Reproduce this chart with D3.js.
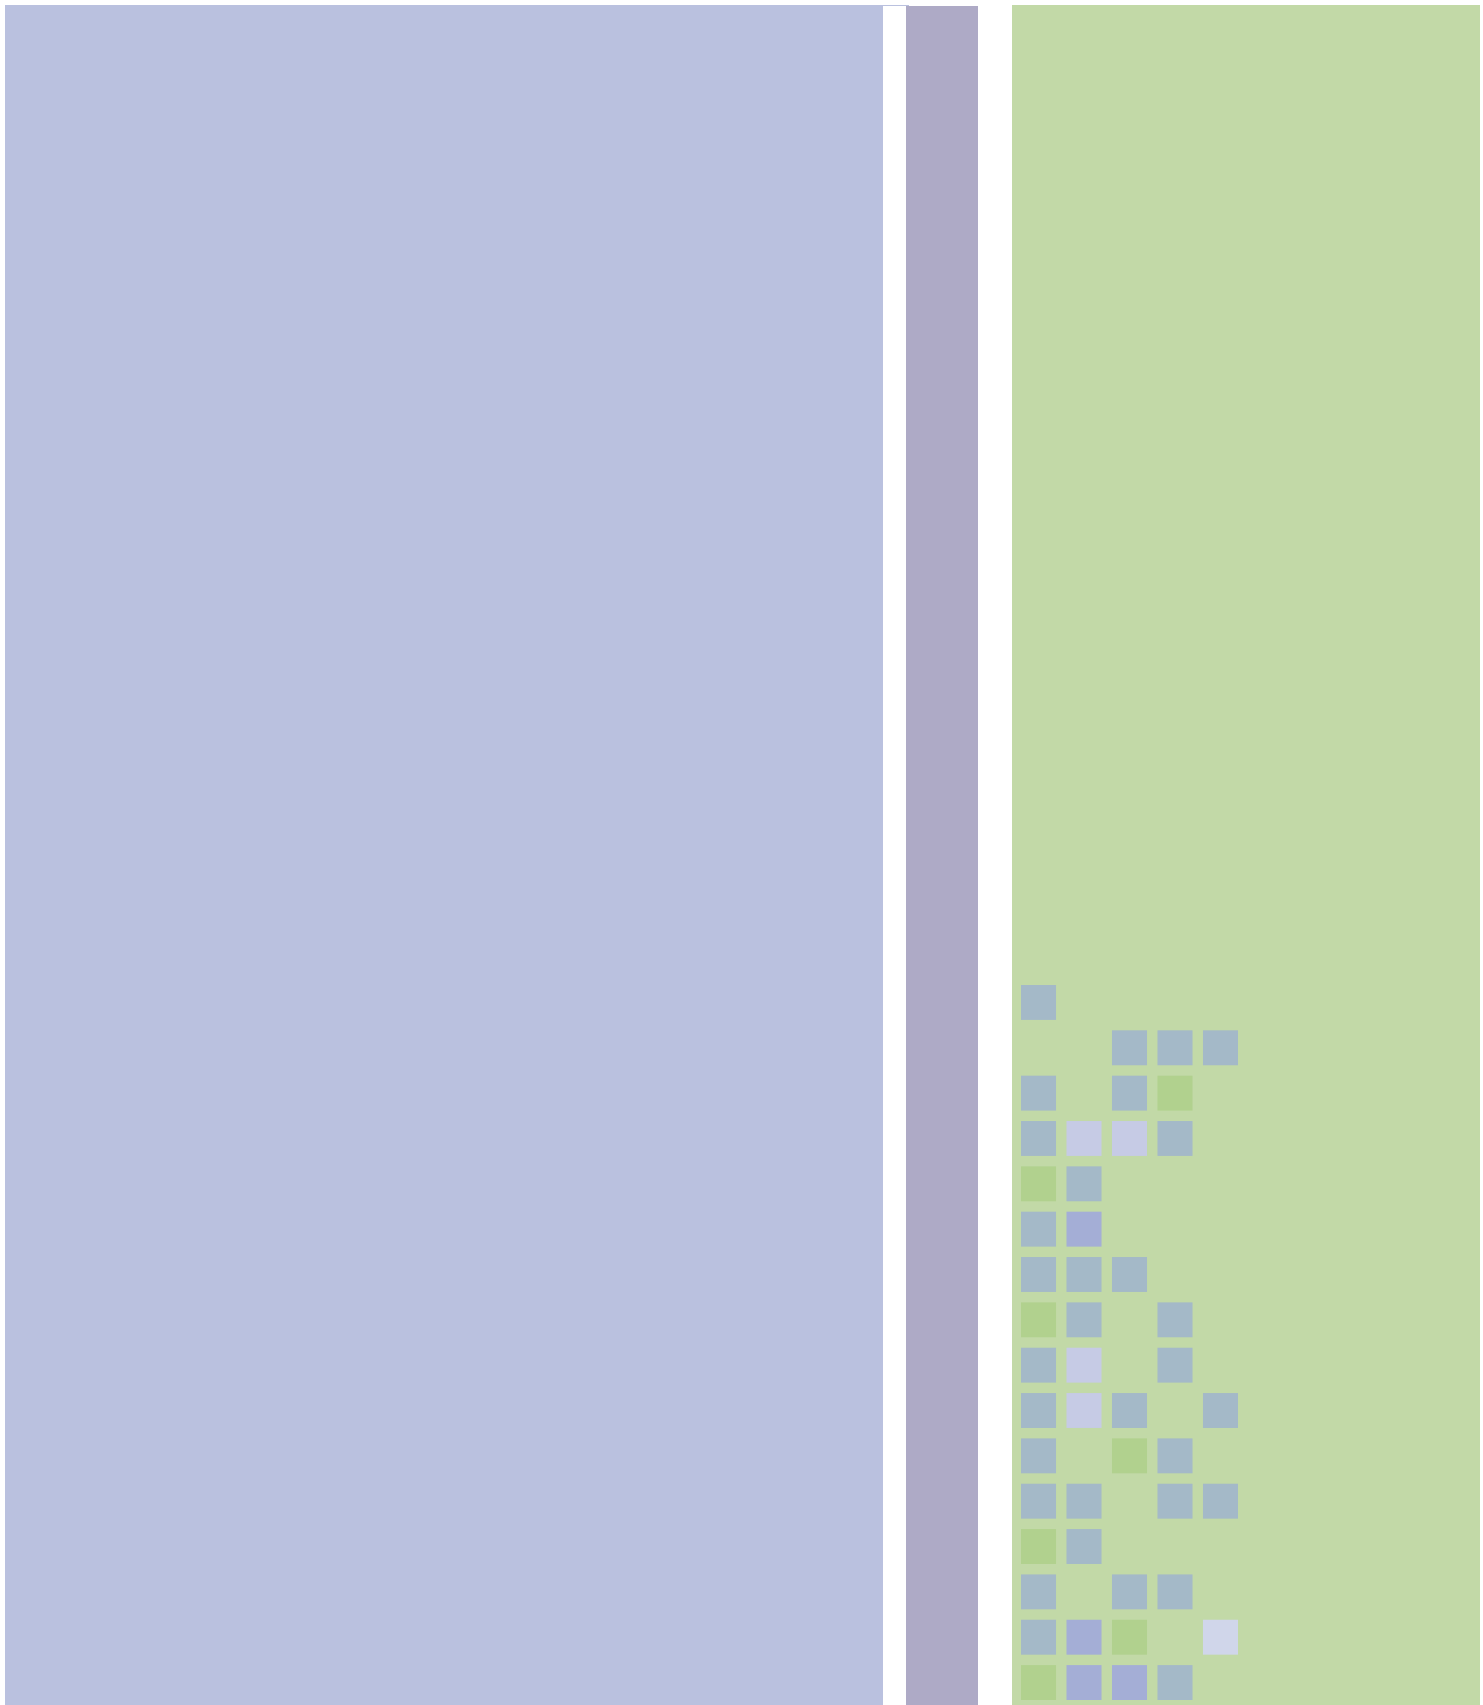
<!DOCTYPE html>
<html>
<head>
<meta charset="utf-8">
<script src="https://cdn.jsdelivr.net/npm/d3@7"></script>
<style>
    html, body { margin: 0; padding: 0; background: #fff; overflow: hidden; }
    svg { display: block; }
</style>
</head>
<body>
<svg id="chart"></svg>
<script>
// big blocks, left to right (width units), and the gap that comes before each one
const blockNames = ["left", "middle", "right"];
const blockValues = [878, 72, 468];
const blockGaps = [5, 23, 34];
const blockColors = ["#bac1df", "#aeaac6", "#c2d9a7"];

// waffle cells inside the right block, one string per row, one char per column
const waffleRows = [
    "b....",
    "..bbb",
    "b.bg.",
    "bllb.",
    "gb...",
    "bp...",
    "bbb..",
    "gb.b.",
    "bl.b.",
    "blb.b",
    "b.gb.",
    "bb.bb",
    "gb...",
    "b.bb.",
    "bpg.w",
    "gppb."
];
const waffleCodes = ["b", "l", "g", "p", "w"];
const waffleColors = ["#a4b9c8", "#c6cbe5", "#b1d18e", "#a4aed6", "#d0d6ea"];

const width = 1483;
const height = 1705;

const svg = d3.select("#chart")
    .attr("width", width)
    .attr("height", height);

// cumulative layout of the blocks
let pos = 0;
const blocks = blockNames.map((name, i) => {
    pos += blockGaps[i];
    const b = { name: name, x0: pos, x1: pos + blockValues[i], color: blockColors[i] };
    pos += blockValues[i];
    return b;
});

const x = d3.scaleLinear()
    .domain([0, width])
    .range([0, width]);

svg.selectAll("rect.block")
    .data(blocks)
    .enter().append("rect")
    .attr("class", "block")
    .attr("x", d => x(d.x0))
    .attr("y", d => d.name === "middle" ? 6 : 5)
    .attr("width", d => x(d.x1) - x(d.x0))
    .attr("height", height + 20)
    .attr("fill", d => d.color);

// hairline at the top of the left block running over to the middle one
svg.append("line")
    .attr("x1", x(blocks[0].x1))
    .attr("x2", x(blocks[1].x0) + 3)
    .attr("y1", 5.5)
    .attr("y2", 5.5)
    .attr("stroke", blockColors[0])
    .attr("stroke-width", 1);

// waffle
const nCols = waffleRows[0].length;
const cellX = d3.scaleBand()
    .domain(d3.range(nCols))
    .range([x(blocks[2].x0) + 9, x(blocks[2].x0) + 226])
    .paddingInner(0.23)
    .paddingOuter(0);

const cellY = d3.scaleBand()
    .domain(d3.range(waffleRows.length))
    .range([985, 1700])
    .paddingInner(0.23)
    .paddingOuter(0);

const cellColor = d3.scaleOrdinal()
    .domain(waffleCodes)
    .range(waffleColors);

const cells = [];
waffleRows.forEach((row, r) => {
    row.split("").forEach((code, c) => {
        if (code !== ".") cells.push({ row: r, col: c, code: code });
    });
});

svg.selectAll("rect.cell")
    .data(cells)
    .enter().append("rect")
    .attr("class", "cell")
    .attr("x", d => cellX(d.col))
    .attr("y", d => cellY(d.row))
    .attr("width", cellX.bandwidth())
    .attr("height", cellY.bandwidth())
    .attr("fill", d => cellColor(d.code));
</script>
</body>
</html>
